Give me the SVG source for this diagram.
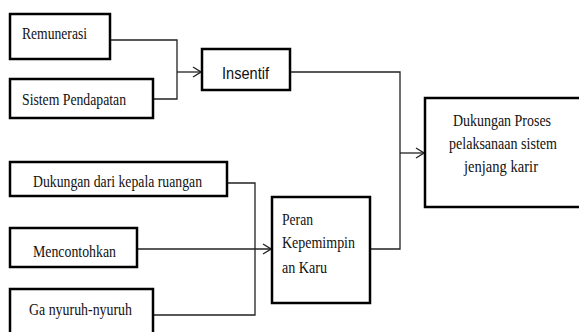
<svg xmlns="http://www.w3.org/2000/svg" width="579" height="332" viewBox="0 0 579 332">
<defs>
<style>
.box{fill:#fff;stroke:#000;stroke-width:2.5}
.t{font-family:"Liberation Serif","DejaVu Serif",serif;font-size:16px;fill:#111}
.s{font-family:"Liberation Sans","DejaVu Sans",sans-serif;font-size:17px;fill:#111}
.c{fill:none;stroke:#222;stroke-width:1.3}
</style>
<marker id="arr" markerWidth="10" markerHeight="12" refX="9" refY="6" orient="auto" markerUnits="userSpaceOnUse">
<path d="M1,1 L9,6 L1,11" fill="none" stroke="#222" stroke-width="1.3"/>
</marker>
</defs>
<rect width="579" height="332" fill="#fff"/>
<g id="connectors">
<path class="c" d="M110,40 H177 V99 H153"/>
<path class="c" d="M177,72 H201" stroke-width="2" marker-end="url(#arr)"/>
<path class="c" d="M290,72 H400 V249 H370"/>
<path class="c" d="M400,153 H424" marker-end="url(#arr)"/>
<path class="c" d="M227,183 H255 V315 H153"/>
<path class="c" d="M137,249 H271" marker-end="url(#arr)"/>
</g>
<g id="remunerasi">
<rect class="box" x="10" y="14" width="100" height="45"/>
<text class="t" x="22" y="39" textLength="65" lengthAdjust="spacingAndGlyphs">Remunerasi</text>
</g>
<g id="sistem-pendapatan">
<rect class="box" x="10" y="79" width="143" height="39"/>
<text class="t" x="22" y="105" textLength="104" lengthAdjust="spacingAndGlyphs">Sistem Pendapatan</text>
</g>
<g id="insentif">
<rect class="box" x="202" y="49" width="88" height="41"/>
<text class="s" x="222" y="79" textLength="47" lengthAdjust="spacingAndGlyphs">Insentif</text>
</g>
<g id="dukungan-proses">
<rect class="box" x="425" y="98" width="170" height="109"/>
<text class="t" x="502" y="126" text-anchor="middle" textLength="98" lengthAdjust="spacingAndGlyphs">Dukungan Proses</text>
<text class="t" x="503" y="149" text-anchor="middle" textLength="108" lengthAdjust="spacingAndGlyphs">pelaksanaan sistem</text>
<text class="t" x="501" y="172" text-anchor="middle" textLength="74" lengthAdjust="spacingAndGlyphs">jenjang karir</text>
</g>
<g id="dukungan-kepala">
<rect class="box" x="10" y="162" width="217" height="34"/>
<text class="t" x="33" y="187" textLength="169" lengthAdjust="spacingAndGlyphs">Dukungan dari kepala ruangan</text>
</g>
<g id="mencontohkan">
<rect class="box" x="10" y="228" width="127" height="39"/>
<text class="t" x="33" y="257" textLength="83" lengthAdjust="spacingAndGlyphs">Mencontohkan</text>
</g>
<g id="ga-nyuruh">
<rect class="box" x="10" y="289" width="143" height="50"/>
<text class="t" x="29" y="315" textLength="103" lengthAdjust="spacingAndGlyphs">Ga nyuruh-nyuruh</text>
</g>
<g id="peran">
<rect class="box" x="272" y="197" width="98" height="106"/>
<text class="t" x="282" y="225" textLength="31" lengthAdjust="spacingAndGlyphs">Peran</text>
<text class="t" x="282" y="248" textLength="73" lengthAdjust="spacingAndGlyphs">Kepemimpin</text>
<text class="t" x="282" y="273" textLength="45" lengthAdjust="spacingAndGlyphs">an Karu</text>
</g>
</svg>
